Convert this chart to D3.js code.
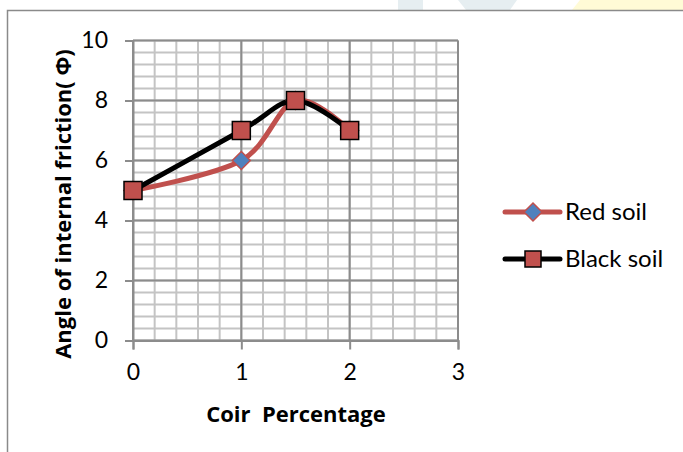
<!DOCTYPE html>
<html>
<head>
<meta charset="utf-8">
<script src="https://cdn.jsdelivr.net/npm/d3@7"></script>
<style>
	html, body { margin: 0; padding: 0; background: #fff; }
	svg { display: block; font-family: Lato, "Open Sans", sans-serif; }
</style>
</head>
<body>
<svg id="chart" width="683" height="452"></svg>
<script>
// Chart values
let coirPercent = [0, 1, 1.5, 2]
let redSoil = [5, 6, 8, 7]
let blackSoil = [5, 7, 8, 7]
let xTicks = [0, 1, 2, 3]
let yTicks = [0, 2, 4, 6, 8, 10]
let seriesNames = ["Red soil", "Black soil"]

let svg = d3.select("#chart")

// faint watermark bits peeking in above the frame
svg.append("rect").attr("x", 398).attr("y", 0).attr("width", 25).attr("height", 10).attr("fill", "#e6eef1")
svg.append("path").attr("d", "M458,0 L517,0 L510,10 L466,10 Z").attr("fill", "#e6eef1")
svg.append("path").attr("d", "M580,0 L683,0 L683,10 L572,10 Z").attr("fill", "#fffbd6")

// outer frame
svg.append("rect")
	.attr("x", 7.5).attr("y", 10.5)
	.attr("width", 700).attr("height", 460)
	.attr("fill", "#fff")
	.attr("stroke", "#8a8a8a")
	.attr("stroke-width", 1.5)

let plot = { left: 133, right: 458, top: 40.5, bottom: 340.5 }

let x = d3.scaleLinear().domain([0, 3]).range([plot.left, plot.right])
let y = d3.scaleLinear().domain([0, 10]).range([plot.bottom, plot.top])

// minor gridlines
let g = svg.append("g")
g.selectAll("line.vminor")
	.data(d3.range(0, 3.01, 0.2))
	.join("line")
	.attr("class", "vminor")
	.attr("x1", d => x(d)).attr("x2", d => x(d))
	.attr("y1", plot.top).attr("y2", plot.bottom)
	.attr("stroke", "#c4c4c4").attr("stroke-width", 2)
g.selectAll("line.hminor")
	.data(d3.range(0, 10.01, 0.4))
	.join("line")
	.attr("class", "hminor")
	.attr("x1", plot.left).attr("x2", plot.right)
	.attr("y1", d => y(d)).attr("y2", d => y(d))
	.attr("stroke", "#c4c4c4").attr("stroke-width", 2)

// major gridlines
g.selectAll("line.vmajor")
	.data(xTicks)
	.join("line")
	.attr("class", "vmajor")
	.attr("x1", d => x(d)).attr("x2", d => x(d))
	.attr("y1", plot.top).attr("y2", plot.bottom)
	.attr("stroke", "#8c8c8c").attr("stroke-width", 2)
g.selectAll("line.hmajor")
	.data(yTicks)
	.join("line")
	.attr("class", "hmajor")
	.attr("x1", plot.left).attr("x2", plot.right)
	.attr("y1", d => y(d)).attr("y2", d => y(d))
	.attr("stroke", "#8c8c8c").attr("stroke-width", 2)

// axes
let xAxis = svg.append("g")
	.attr("transform", `translate(0,${plot.bottom})`)
	.call(d3.axisBottom(x).tickValues(xTicks).tickFormat(d3.format("d")).tickSize(9).tickPadding(14))
let yAxis = svg.append("g")
	.attr("transform", `translate(${plot.left},0)`)
	.call(d3.axisLeft(y).tickValues(yTicks).tickFormat(d3.format("d")).tickSize(8).tickPadding(17))
;[xAxis, yAxis].forEach(a => {
	a.select(".domain").attr("stroke", "#8c8c8c").attr("stroke-width", 2)
	a.selectAll(".tick line").attr("stroke", "#8c8c8c").attr("stroke-width", 2)
	a.selectAll(".tick text")
		.attr("fill", "#000")
		.style("font-family", "Lato, sans-serif")
		.style("font-size", "23px")
})

// axis titles
svg.append("text")
	.attr("x", 296).attr("y", 422)
	.attr("text-anchor", "middle")
	.style("font-family", "'Open Sans', sans-serif")
	.style("font-weight", "bold")
	.style("font-size", "22px")
	.style("white-space", "pre")
	.text("Coir  Percentage")
svg.append("text")
	.attr("transform", "translate(71,204) rotate(-90)")
	.attr("text-anchor", "middle")
	.style("font-family", "'Open Sans', sans-serif")
	.style("font-weight", "bold")
	.style("font-size", "22px")
	.text("Angle of internal friction( Φ)")

// series
let curve = d3.line().curve(d3.curveCardinal.tension(0))
let toPoints = vals => vals.map((v, i) => [x(coirPercent[i]), y(v)])

svg.append("path")
	.attr("d", curve(toPoints(redSoil)))
	.attr("fill", "none")
	.attr("stroke", "#c0504d")
	.attr("stroke-width", 5)
	.attr("stroke-linecap", "round")

svg.append("path")
	.attr("d", curve(toPoints(blackSoil)))
	.attr("fill", "none")
	.attr("stroke", "#000")
	.attr("stroke-width", 5)
	.attr("stroke-linecap", "round")

let diamond = (cx, cy, r) => `M${cx},${cy - r}L${cx + r},${cy}L${cx},${cy + r}L${cx - r},${cy}Z`

svg.append("g").selectAll("path")
	.data(toPoints(redSoil))
	.join("path")
	.attr("d", d => diamond(d[0], d[1], 9))
	.attr("fill", "#4f81bd")
	.attr("stroke", "#c0504d")
	.attr("stroke-width", 1.5)

svg.append("g").selectAll("rect")
	.data(toPoints(blackSoil))
	.join("rect")
	.attr("x", d => d[0] - 9).attr("y", d => d[1] - 9)
	.attr("width", 18).attr("height", 18)
	.attr("fill", "#c0504d")
	.attr("stroke", "#000")
	.attr("stroke-width", 1.5)

// legend
let legend = svg.append("g").attr("transform", "translate(505,212)")
let rows = legend.selectAll("g")
	.data(seriesNames)
	.join("g")
	.attr("transform", (d, i) => `translate(0,${i * 47})`)
rows.append("line")
	.attr("x1", 0).attr("x2", 55)
	.attr("stroke", (d, i) => i ? "#000" : "#c0504d")
	.attr("stroke-width", 5)
	.attr("stroke-linecap", "round")
rows.filter((d, i) => i === 0).append("path")
	.attr("d", diamond(28, 0, 9))
	.attr("fill", "#4f81bd")
	.attr("stroke", "#c0504d")
	.attr("stroke-width", 1.5)
rows.filter((d, i) => i === 1).append("rect")
	.attr("x", 20).attr("y", -8)
	.attr("width", 16).attr("height", 16)
	.attr("fill", "#c0504d")
	.attr("stroke", "#000")
	.attr("stroke-width", 1.5)
rows.append("text")
	.attr("x", 60)
	.attr("dy", "0.35em")
	.style("font-size", "24px")
	.text(d => d)
</script>
</body>
</html>
